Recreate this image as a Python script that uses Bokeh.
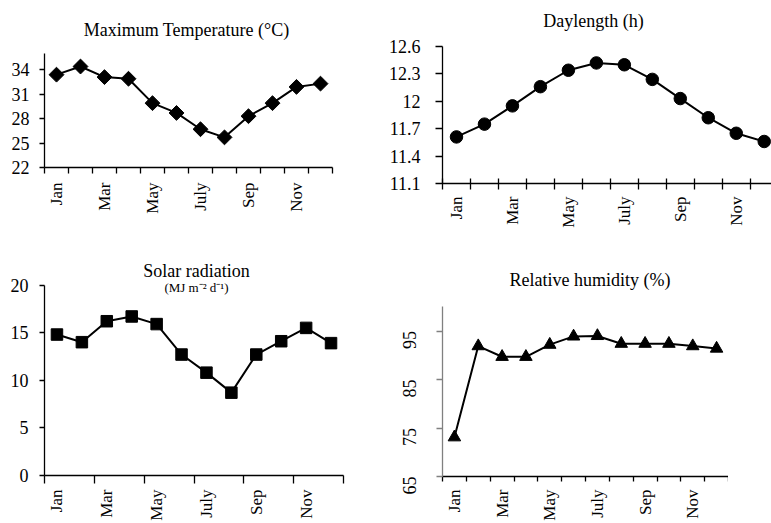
import math
from bokeh.plotting import figure
from bokeh.models import Range1d, FixedTicker, CustomJSTickFormatter, Label
from bokeh.layouts import column, row
from bokeh.embed import file_html
from bokeh.resources import INLINE

# ---------------- data ----------------
MONTHS = ["Jan", "Feb", "Mar", "Apr", "May", "Jun", "July", "Aug", "Sep", "Oct", "Nov", "Dec"]
TEMP_MAX = [33.4, 34.4, 33.1, 32.9, 29.9, 28.7, 26.7, 25.7, 28.3, 29.9, 31.9, 32.3]
DAYLENGTH = [11.61, 11.75, 11.95, 12.16, 12.34, 12.42, 12.40, 12.24, 12.03, 11.82, 11.65, 11.56]
SOLAR = [14.8, 14.0, 16.2, 16.7, 15.9, 12.7, 10.8, 8.7, 12.7, 14.1, 15.5, 13.9]
RH = [73.1, 91.9, 89.7, 89.7, 92.2, 93.9, 94.0, 92.4, 92.4, 92.4, 91.9, 91.4]

TEMP_TICKS = [22, 25, 28, 31, 34]
DAY_TICKS = [11.1, 11.4, 11.7, 12.0, 12.3, 12.6]
SOLAR_TICKS = [0, 5, 10, 15, 20]
RH_TICKS = [65, 75, 85, 95]

TITLES = ["Maximum Temperature (°C)", "Daylength (h)", "Solar radiation", "Relative humidity (%)"]
SUBTITLE = "(MJ m⁻² d⁻¹)"

FONT = "Liberation Serif"
X = [i + 0.5 for i in range(len(MONTHS))]
LABEL_POS = [i + 0.5 for i in range(0, len(MONTHS), 2)]


def above(y0, y1, axis_px, px):
    """data value lying `px` pixels above the top of an axis spanning y0..y1 over axis_px pixels"""
    return y1 + (y1 - y0) * px / axis_px


def make_fig(w, h, left, right, bottom, x_end, y0, y1, axis_px):
    # the frame reaches the top of the figure; the y axis itself is bounded to y0..y1
    frame_h = h - bottom
    f = figure(width=w, height=h, x_range=Range1d(0, x_end),
               y_range=Range1d(y0, above(y0, y1, axis_px, frame_h - axis_px)),
               output_backend="svg", toolbar_location=None, title=None,
               min_border_left=left, min_border_right=right,
               min_border_top=0, min_border_bottom=bottom)
    f.outline_line_color = None
    f.xgrid.visible = False
    f.ygrid.visible = False
    f.background_fill_color = "white"
    f.border_fill_color = "white"
    return f


def style_y(f, ticks, bounds, tick_out, standoff, line_color="black", vertical=False, fmt=None):
    ax = f.yaxis[0]
    ax.ticker = FixedTicker(ticks=ticks, minor_ticks=[])
    ax.bounds = bounds
    if fmt is not None:
        ax.formatter = fmt
    ax.axis_line_color = line_color
    ax.axis_line_width = 1.3
    ax.major_tick_line_color = line_color
    ax.major_tick_line_width = 1.3
    ax.major_tick_in = 0
    ax.major_tick_out = tick_out
    ax.minor_tick_line_color = None
    ax.major_label_text_font = FONT
    ax.major_label_text_font_size = "18px"
    ax.major_label_text_color = "black"
    ax.major_label_standoff = standoff
    if vertical:
        ax.major_label_orientation = math.pi / 2


def style_x(f, boundaries, tick_in, tick_out, standoff):
    ax = f.xaxis[0]
    ax.ticker = FixedTicker(ticks=LABEL_POS, minor_ticks=boundaries)
    ax.formatter = CustomJSTickFormatter(args=dict(names=MONTHS),
                                         code="return names[Math.floor(tick)];")
    ax.axis_line_color = "black"
    ax.axis_line_width = 1.3
    ax.major_tick_line_color = None
    ax.major_tick_in = 0
    ax.major_tick_out = 0
    ax.minor_tick_line_color = "black"
    ax.minor_tick_line_width = 1.3
    ax.minor_tick_in = tick_in
    ax.minor_tick_out = tick_out
    ax.major_label_orientation = math.pi / 2
    ax.major_label_standoff = standoff
    ax.major_label_text_font = FONT
    ax.major_label_text_font_size = "17px"
    ax.major_label_text_color = "black"


def add_text(f, x, y, text, size="18px"):
    f.add_layout(Label(x=x, y=y, text=text, text_font=FONT, text_font_size=size,
                       text_color="black", text_align="center", text_baseline="alphabetic"))


# ---- Panel 1: Maximum temperature ----
f1 = make_fig(374, 260, 44, 42, 93, 12, 22, 36, 114)
style_y(f1, TEMP_TICKS, (22, 36), 5, 10)
style_x(f1, list(range(13)), 0, 6, 9)
f1.line(X, TEMP_MAX, line_color="black", line_width=2)
f1.scatter(X, TEMP_MAX, marker="square", angle=math.pi / 4, size=10.5,
           fill_color="black", line_color="black")
add_text(f1, 5.92, above(22, 36, 114, 24), TITLES[0])

# ---- Panel 2: Daylength ----
f2 = make_fig(386, 260, 47, 0, 77, 11.76, 11.1, 12.6, 137)
style_y(f2, DAY_TICKS, (11.1, 12.6), 7, 15,
        fmt=CustomJSTickFormatter(code="return String(Math.round(tick*10)/10);"))
style_x(f2, list(range(13)), 5, 6, 7)
f2.line(X, DAYLENGTH, line_color="black", line_width=2)
f2.scatter(X, DAYLENGTH, marker="circle", size=12.5, fill_color="black", line_color="black")
add_text(f2, 5.4, above(11.1, 12.6, 137, 26), TITLES[1])

# ---- Panel 3: Solar radiation ----
f3 = make_fig(385, 263, 44, 42, 44, 12, 0, 20, 194)
style_y(f3, SOLAR_TICKS, (0, 20), 5, 11)
style_x(f3, list(range(0, 13, 2)), 0, 8, 6)
f3.line(X, SOLAR, line_color="black", line_width=2)
f3.scatter(X, SOLAR, marker="square", size=11.5, fill_color="black", line_color="black")
add_text(f3, 6.1, above(0, 20, 194, 14.5), TITLES[2])
add_text(f3, 6.1, above(0, 20, 194, -3), SUBTITLE, size="13px")

# ---- Panel 4: Relative humidity ----
f4 = make_fig(343, 263, 47, 0, 44, 12, 65, 100, 172)
style_y(f4, RH_TICKS, (65, 100), 6, 27, line_color="#808080", vertical=True)
style_x(f4, list(range(13)), 0, 5, 8)
f4.line(X, RH, line_color="black", line_width=2)
f4.scatter(X, RH, marker="triangle", size=12.5, fill_color="black", line_color="black")
add_text(f4, 6.19, above(65, 100, 172, 27), TITLES[3])

p = row(column(f1, f3), column(f2, f4))

open("out.html", "w").write(file_html(p, INLINE))
